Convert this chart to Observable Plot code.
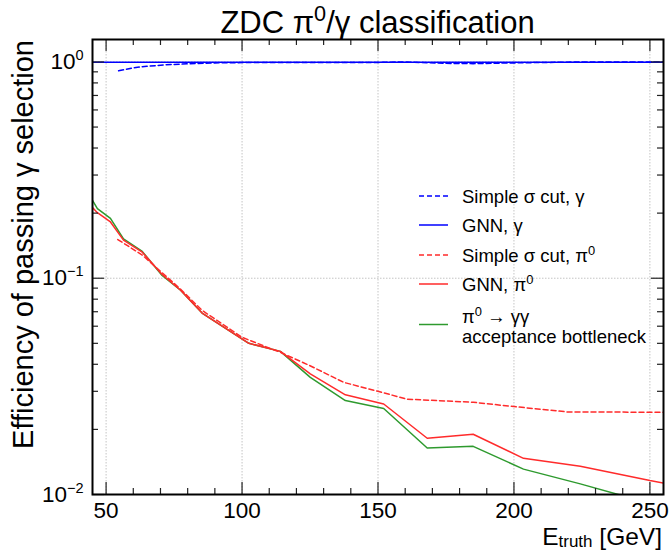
<!DOCTYPE html>
<html>
<head>
<meta charset="utf-8">
<script src="https://cdn.jsdelivr.net/npm/d3@7"></script>
<script src="https://cdn.jsdelivr.net/npm/@observablehq/plot@0.6"></script>
<style>
  html, body { margin: 0; padding: 0; background: #fff; }
  #chart svg { display: block; }
</style>
</head>
<body>
<div id="chart"></div>
<script>
// ---------------- data ----------------
const xBins = [45, 46.8, 51.6, 56.4, 63.3, 70.6, 77.4, 85.3, 102.5, 114.1, 125.1, 138.0, 152.1, 168.1, 185.0, 203.5, 224.4, 250.0, 255.0];
const gnnPi0 = [0.212, 0.201, 0.182, 0.150, 0.132, 0.104, 0.088, 0.069, 0.050, 0.0459, 0.0361, 0.0289, 0.0262, 0.0182, 0.0190, 0.0147, 0.0135, 0.0116, 0.0113];
const acceptance = [0.229, 0.210, 0.189, 0.152, 0.133, 0.103, 0.088, 0.069, 0.050, 0.0459, 0.0348, 0.0272, 0.0250, 0.0164, 0.0167, 0.0131, 0.0112, 0.0091, 0.0088];
const gnnGamma = [0.998, 0.998, 0.998, 0.998, 0.998, 0.998, 0.998, 0.998, 0.998, 0.998, 0.998, 0.998, 0.998, 0.998, 0.998, 0.998, 0.998, 0.998, 0.998];

const xSimplePi0 = [54.3, 63.3, 70.6, 77.4, 85.3, 100.0, 114.1, 125.0, 137.4, 150.0, 160.7, 185.0, 200.0, 219.5, 255.0];
const simplePi0 = [0.151, 0.128, 0.106, 0.089, 0.071, 0.0533, 0.0454, 0.0394, 0.0330, 0.0300, 0.0276, 0.0267, 0.0255, 0.0241, 0.0240];

const xSimpleGamma = [54.6, 60, 65, 72, 80, 90, 100, 125, 150, 160, 175, 185, 200, 225, 255];
const simpleGamma = [0.91, 0.94, 0.955, 0.97, 0.98, 0.99, 0.993, 0.993, 0.995, 1.0, 0.985, 0.982, 0.99, 1.0, 1.0];

const xMajorTicks = [50, 100, 150, 200, 250];
const xMinorTicks = [60, 70, 80, 90, 110, 120, 130, 140, 160, 170, 180, 190, 210, 220, 230, 240];
const yMajorTicks = [0.01, 0.1, 1];
const yMinorTicks = [0.02, 0.03, 0.04, 0.05, 0.06, 0.07, 0.08, 0.09, 0.2, 0.3, 0.4, 0.5, 0.6, 0.7, 0.8, 0.9];
const yTickLabels = ["10^−2", "10^−1", "10^0"];

const titleParts = ["ZDC π", "0", "/γ classification"];
const xLabel = "E";
const xLabelSub = "truth";
const xLabelRest = " [GeV]";
const yLabel = "Efficiency of passing γ selection";

const legendItems = [
  {label: [["Simple σ cut, γ"]], color: "blue", dash: "5,3"},
  {label: [["GNN, γ"]], color: "blue", dash: null},
  {label: [["Simple σ cut, π", "0"]], color: "#ff2b2b", dash: "5,3"},
  {label: [["GNN, π", "0"]], color: "#ff2b2b", dash: null},
  {label: [["π", "0", " → γγ"], ["acceptance bottleneck"]], color: "#2e9a2e", dash: null}
];

// ---------------- layout ----------------
const W = 669, H = 551;
const mL = 92, mR = 6, mT = 39, mB = 57;
const innerW = W - mL - mR, innerH = H - mT - mB;
const MAJ = 12, MIN = 6;

// ---------------- build tables ----------------
const toRows = (xs, ys) => xs.map((x, i) => ({x, y: ys[i]}));
const series = [
  {rows: toRows(xBins, acceptance), color: "#2e9a2e", dash: null},
  {rows: toRows(xBins, gnnPi0), color: "#ff2b2b", dash: null},
  {rows: toRows(xSimplePi0, simplePi0), color: "#ff2b2b", dash: "5,3"},
  {rows: toRows(xBins, gnnGamma), color: "blue", dash: null},
  {rows: toRows(xSimpleGamma, simpleGamma), color: "blue", dash: "5,3"}
];

const FONT = '"Liberation Sans", Arial, Helvetica, sans-serif';
const gridStyle = {stroke: "#c4c4c4", strokeOpacity: 1, strokeWidth: 1, strokeDasharray: "1.5,1.5"};
const tickStyle = {stroke: "#222", strokeWidth: 1.2};

const chart = Plot.plot({
  width: W,
  height: H,
  marginLeft: mL,
  marginRight: mR,
  marginTop: mT,
  marginBottom: mB,
  style: {fontFamily: FONT, background: "white", color: "black", overflow: "visible"},
  x: {type: "linear", domain: [45, 255]},
  y: {type: "log", domain: [0.01, 1.27]},
  marks: [
    Plot.gridX(xMajorTicks, gridStyle),
    Plot.gridY(yMajorTicks, gridStyle),
    ...series.map(s => Plot.line(s.rows, {
      x: "x", y: "y", stroke: s.color, strokeWidth: 1.5,
      strokeDasharray: s.dash || undefined, clip: true
    })),
    // inward ticks on all four sides
    Plot.ruleX(xMajorTicks, {x: d => d, insetTop: innerH - MAJ, ...tickStyle}),
    Plot.ruleX(xMinorTicks, {x: d => d, insetTop: innerH - MIN, ...tickStyle}),
    Plot.ruleX(xMajorTicks, {x: d => d, insetBottom: innerH - MAJ, ...tickStyle}),
    Plot.ruleX(xMinorTicks, {x: d => d, insetBottom: innerH - MIN, ...tickStyle}),
    Plot.ruleY(yMajorTicks, {y: d => d, insetRight: innerW - MAJ, ...tickStyle}),
    Plot.ruleY(yMinorTicks, {y: d => d, insetRight: innerW - MIN, ...tickStyle}),
    Plot.ruleY(yMajorTicks, {y: d => d, insetLeft: innerW - MAJ, ...tickStyle}),
    Plot.ruleY(yMinorTicks, {y: d => d, insetLeft: innerW - MIN, ...tickStyle}),
    Plot.frame({stroke: "black", strokeWidth: 2}),
    // tick labels
    Plot.axisX({anchor: "bottom", ticks: xMajorTicks, tickSize: 0, tickPadding: 8, label: null, fontSize: 22.5, tickFormat: d => String(d)}),
    Plot.axisY({anchor: "left", ticks: yMajorTicks, tickSize: 0, tickPadding: 9, label: null, fontSize: 22.5,
      tickFormat: d => yTickLabels[yMajorTicks.indexOf(d)]})
  ]
});

const svg = d3.select(chart);

// superscripts in y tick labels
svg.selectAll('g[aria-label="y-axis tick label"] text').each(function() {
  const t = d3.select(this);
  const s = t.text();
  const parts = s.split("^");
  if (parts.length === 2) {
    t.text(parts[0]);
    t.append("tspan").attr("dy", -9).attr("font-size", 14.5).text(parts[1]);
  }
});

// helper: [base, sup, rest] -> text with superscript (pixel offsets)
function addParts(sel, parts, size) {
  const up = Math.round(size * 0.4);
  sel.append("tspan").text(parts[0]);
  if (parts.length > 1) {
    sel.append("tspan").attr("dy", -up).attr("font-size", size * 0.7).text(parts[1]);
    if (parts.length > 2) sel.append("tspan").attr("dy", up).text(parts[2]);
  }
}

// title
addParts(svg.append("text")
  .attr("x", 377.5).attr("y", 33)
  .attr("text-anchor", "middle")
  .attr("font-family", FONT).attr("font-size", 31).attr("fill", "black"), titleParts, 31);

// x label
const xl = svg.append("text")
  .attr("x", 662).attr("y", 545)
  .attr("text-anchor", "end")
  .attr("font-family", FONT).attr("font-size", 24.5).attr("fill", "black");
xl.append("tspan").text(xLabel);
xl.append("tspan").attr("dy", 2).attr("font-size", 17).text(xLabelSub);
xl.append("tspan").attr("dy", -2).text(xLabelRest);

// y label
svg.append("text")
  .attr("transform", "translate(33,40) rotate(-90)")
  .attr("text-anchor", "end")
  .attr("font-family", FONT).attr("font-size", 29).attr("fill", "black")
  .text(yLabel);

// legend
const lg = svg.append("g").attr("font-family", FONT).attr("font-size", 18.5).attr("text-anchor", "start");
const rowY = [196, 225, 255, 284, 316];
legendItems.forEach((item, i) => {
  const y = rowY[i];
  const lineY = item.label.length > 1 ? y + 8.5 : y;
  lg.append("line").attr("x1", 419).attr("x2", 448).attr("y1", lineY).attr("y2", lineY)
    .attr("stroke", item.color).attr("stroke-width", 1.5)
    .attr("stroke-dasharray", item.dash);
  item.label.forEach((parts, j) => {
    const t = lg.append("text").attr("x", 462).attr("y", y + j * 20 + 6.5)
      .attr("fill", "black").attr("text-anchor", "start");
    addParts(t, parts, 18.5);
  });
});

document.getElementById("chart").appendChild(chart);
</script>
</body>
</html>
